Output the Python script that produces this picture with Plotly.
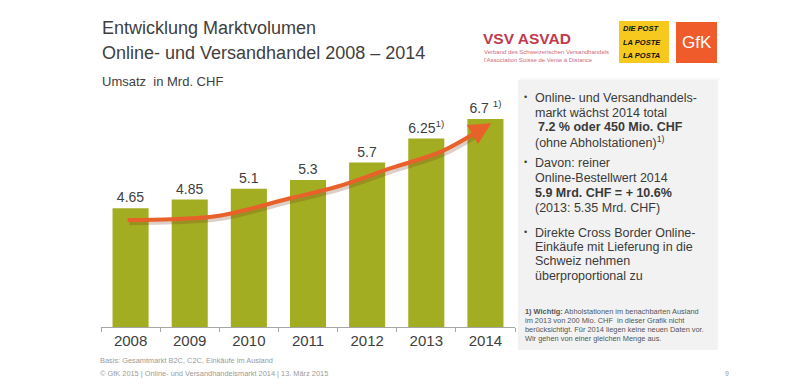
import plotly.graph_objects as go

years = ["2008", "2009", "2010", "2011", "2012", "2013", "2014"]
values = [4.65, 4.85, 5.1, 5.3, 5.7, 6.25, 6.7]
value_labels = ["4.65", "4.85", "5.1", "5.3", "5.7", "6.25<sup>1)</sup>", "6.7 <sup>1)</sup>"]

# trend arrow path (category index, value units)
arrow_x = [-0.05, 0.7, 1.5, 2.7, 3.5, 4.4, 5.25, 5.85, 6.1]
arrow_y = [4.38, 4.40, 4.48, 4.88, 5.15, 5.57, 5.95, 6.40, 6.60]

OFF = 8  # page body margin
W, H = 800 - OFF, 390 - OFF
L, T = 101 - OFF, 95 - OFF
B = H - (327 - OFF)
R = W - (515 - OFF)
PW, PH = W - L - R, H - T - B


def px(x):
    return (x - OFF - L) / PW


def py(y):
    return (H - B - (y - OFF)) / PH


fig = go.Figure()
fig.add_trace(go.Bar(
    x=list(range(len(years))), y=values, width=0.61,
    marker=dict(color="#a3ad22", line=dict(width=0)),
    text=value_labels, textposition="outside", cliponaxis=False,
    textfont=dict(family="Liberation Sans, Arial", size=14, color="#404040"),
    hoverinfo="skip",
))
# arrow shadow
fig.add_trace(go.Scatter(
    x=[v + 0.03 for v in arrow_x[:-1]], y=[v - 0.06 for v in arrow_y[:-1]],
    mode="lines", line=dict(color="rgba(120,60,30,0.25)", width=5, shape="spline"),
    hoverinfo="skip", cliponaxis=False,
))
fig.add_trace(go.Scatter(
    x=arrow_x[:-1], y=arrow_y[:-1], mode="lines",
    line=dict(color="#e8612a", width=4, shape="spline"),
    hoverinfo="skip", cliponaxis=False,
))

ann = []
ann.append(dict(x=arrow_x[-1], y=arrow_y[-1], ax=arrow_x[-2], ay=arrow_y[-2],
                xref="x", yref="y", axref="x", ayref="y", text="", showarrow=True,
                arrowhead=2, arrowsize=1.1, arrowwidth=4, arrowcolor="#e8612a"))

font = "Liberation Sans, Arial"
dark = "#3a3a3a"


def txt(x, y, s, size, color=dark, xanchor="left", **kw):
    ann.append(dict(x=px(x), y=py(y), xref="paper", yref="paper", text=s, showarrow=False,
                    xanchor=xanchor, yanchor="middle", align="left",
                    font=dict(family=font, size=size, color=color), **kw))


# titles
txt(100, 28, "Entwicklung Marktvolumen", 18, "#404040")
txt(100, 53, "Online- und Versandhandel 2008 – 2014", 18, "#404040")
txt(100, 82, "Umsatz  in Mrd. CHF", 13, "#404040")

# logos
txt(481, 39, "<b>VSV ASVAD</b>", 15.5, "#c23a4e")
txt(482, 52, "Verband des Schweizerischen Versandhandels", 6, "#d06a78")
txt(482, 60, "l'Association Suisse de Vente à Distance", 6, "#d06a78")
txt(621, 29, "<b><i>DIE POST</i></b>", 7.5, "#111111")
txt(621, 42, "<b><i>LA POSTE</i></b>", 7.5, "#111111")
txt(621, 55, "<b><i>LA POSTA</i></b>", 7.5, "#111111")
txt(696.5, 42, "GfK", 17, "#ffffff", xanchor="center")

# right panel text
bx = 533
for yb in (97, 162, 232):
    txt(522, yb, "•", 9, dark)
txt(bx, 98, "Online- und Versandhandels-", 12.5)
txt(bx, 113, "markt wächst 2014 total", 12.5)
txt(bx + 3, 127, "<b>7.2 % oder 450 Mio. CHF</b>", 12.5)
txt(bx, 142, "(ohne Abholstationen)<sup>1)</sup>", 12.5)
txt(bx, 163, "Davon: reiner", 12.5)
txt(bx, 178, "Online-Bestellwert 2014", 12.5)
txt(bx, 193, "<b>5.9 Mrd. CHF = + 10.6%</b>", 12.5)
txt(bx, 208, "(2013: 5.35 Mrd. CHF)", 12.5)
txt(bx, 233, "Direkte Cross Border Online-", 12.5)
txt(bx, 247, "Einkäufe mit Lieferung in die", 12.5)
txt(bx, 261, "Schweiz nehmen", 12.5)
txt(bx, 276, "überproportional zu", 12.5)

fx = 523
txt(fx, 311, "<b>1) Wichtig:</b> Abholstationen im benachbarten Ausland", 7.4, "#555555")
txt(fx, 320, "im 2013 von 200 Mio. CHF  in dieser Grafik nicht", 7.4, "#555555")
txt(fx, 329, "berücksichtigt. Für 2014 liegen keine neuen Daten vor.", 7.4, "#555555")
txt(fx, 338, "Wir gehen von einer gleichen Menge aus.", 7.4, "#555555")

# footer
txt(98, 360, "Basis: Gesamtmarkt B2C, C2C, Einkäufe im Ausland", 7.4, "#9a9a9a")
txt(98, 373, "© GfK 2015 | Online- und Versandhandelsmarkt 2014 | 13. März 2015", 7.4, "#9a9a9a")
txt(727, 373, "9", 7, "#9a9a9a", xanchor="center")

shapes = [
    dict(type="rect", xref="paper", yref="paper", x0=px(518), x1=px(718), y0=py(350), y1=py(80),
         fillcolor="#f2f2f2", line=dict(width=0), layer="below"),
    dict(type="rect", xref="paper", yref="paper", x0=px(619), x1=px(669), y0=py(63), y1=py(21),
         fillcolor="#f7c81e", line=dict(width=0)),
    dict(type="rect", xref="paper", yref="paper", x0=px(676), x1=px(717), y0=py(63), y1=py(22),
         fillcolor="#ef5b2a", line=dict(width=0)),
    dict(type="line", xref="paper", yref="paper", x0=px(520), x1=px(720), y0=py(79), y1=py(79),
         line=dict(color="#eeeeee", width=1)),
]

fig.update_layout(
    width=W, height=H, margin=dict(l=L, r=R, t=T, b=B),
    paper_bgcolor="white", plot_bgcolor="white", showlegend=False,
    annotations=ann, shapes=shapes, bargap=0.39,
    xaxis=dict(range=[-0.5, 6.5], tickmode="array", tickvals=list(range(len(years))),
               ticktext=years, ticks="", showgrid=False, zeroline=False,
               showline=True, linecolor="#a6a6a6", linewidth=1,
               tickfont=dict(family=font, size=15, color="#404040"),
               minor=dict(tickmode="linear", tick0=-0.5, dtick=1, ticks="outside",
                          ticklen=4, tickcolor="#a6a6a6", showgrid=False)),
    yaxis=dict(range=[1.925, 7.251], visible=False),
)

fig.write_html("out.html")
